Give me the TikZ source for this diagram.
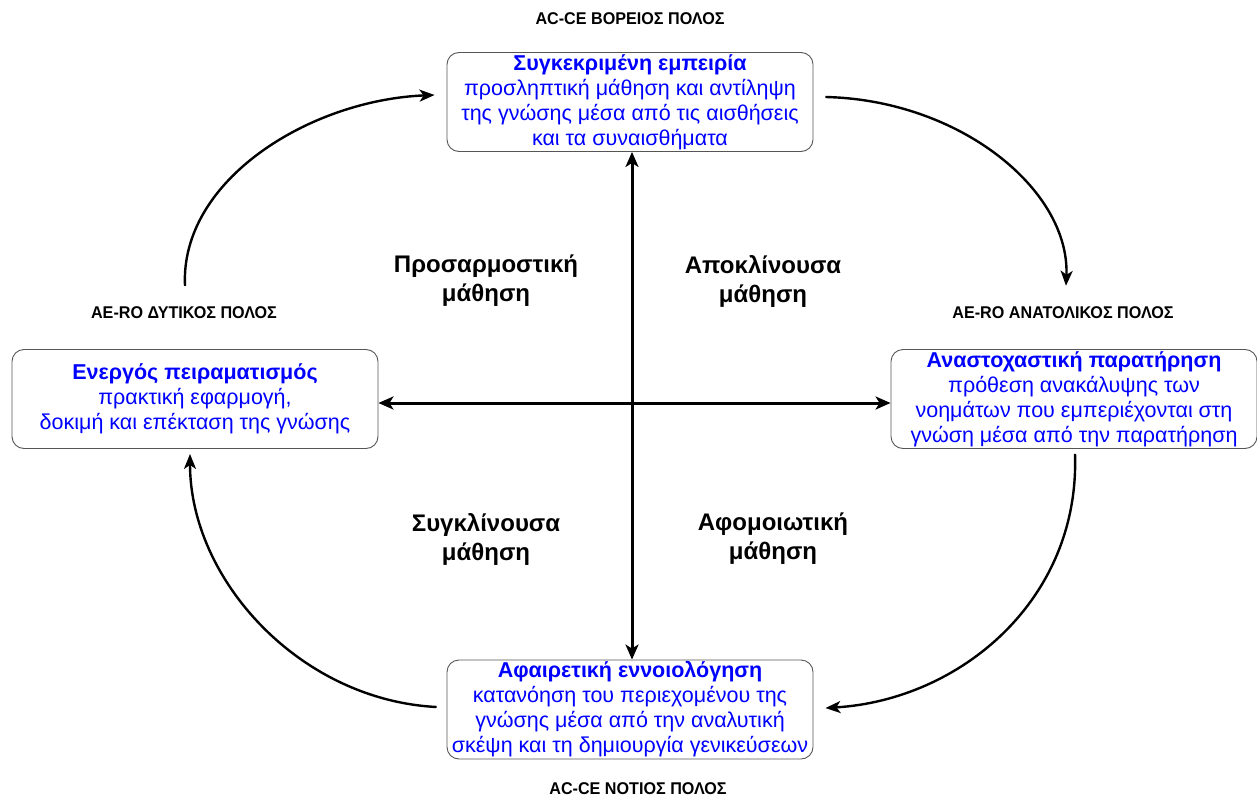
\documentclass[tikz,border=0pt]{standalone}
\usepackage{fontspec}
\setmainfont{Liberation Sans}
\newfontfamily\polefont[FakeStretch=0.95]{Liberation Sans}
\usetikzlibrary{arrows.meta}
\definecolor{boxgray}{RGB}{85,85,85}
\definecolor{stageblue}{RGB}{0,0,255}

\begin{document}
\begin{tikzpicture}[x=1pt,y=-1pt,
  stage/.style={draw=boxgray, line width=0.9pt, rounded corners=12pt,
    minimum width=366pt, minimum height=99pt, inner sep=0pt,
    align=center, text=stageblue, font=\fontsize{21.5}{25}\selectfont},
  pole/.style={font=\polefont\bfseries\fontsize{17}{19}\selectfont, inner sep=1pt},
  lstyle/.style={font=\bfseries\fontsize{24}{29}\selectfont, align=center, inner sep=1pt},
  axis/.style={line width=3pt, {Stealth[length=15pt,width=13pt,inset=4pt]}-{Stealth[length=15pt,width=13pt,inset=4pt]}},
  cycle/.style={line width=2.4pt, -{Stealth[length=15pt,width=12pt,inset=4pt]}}]
\useasboundingbox (0,0) rectangle (1257,797);

% the four stages of the learning cycle
\node[stage] (top) at (630,102) {\textbf{Συγκεκριμένη εμπειρία}\\προσληπτική μάθηση και αντίληψη\\της γνώσης μέσα από τις αισθήσεις\\και τα συναισθήματα};
\node[stage] (left) at (195,399) {\textbf{Ενεργός πειραματισμός}\\πρακτική εφαρμογή,\\δοκιμή και επέκταση της γνώσης};
\node[stage] (right) at (1074,399) {\textbf{Αναστοχαστική παρατήρηση}\\πρόθεση ανακάλυψης των\\νοημάτων που εμπεριέχονται στη\\γνώση μέσα από την παρατήρηση};
\node[stage] (bottom) at (630,709.5) {\textbf{Αφαιρετική εννοιολόγηση}\\κατανόηση του περιεχομένου της\\γνώσης μέσα από την αναλυτική\\σκέψη και τη δημιουργία γενικεύσεων};

% poles
\node[pole] (poleN) at (630,19) {AC-CE ΒΟΡΕΙΟΣ ΠΟΛΟΣ};
\node[pole] (poleW) at (184,313) {AE-RO ΔΥΤΙΚΟΣ ΠΟΛΟΣ};
\node[pole] (poleE) at (1063,313) {AE-RO ΑΝΑΤΟΛΙΚΟΣ ΠΟΛΟΣ};
\node[pole] (poleS) at (638,789) {AC-CE ΝΟΤΙΟΣ ΠΟΛΟΣ};

% learning styles in the quadrants
\node[lstyle] (accom) at (486,281) {Προσαρμοστική\\μάθηση};
\node[lstyle] (diverg) at (763,281) {Αποκλίνουσα\\μάθηση};
\node[lstyle] (converg) at (486,539) {Συγκλίνουσα\\μάθηση};
\node[lstyle] (assim) at (773,539) {Αφομοιωτική\\μάθηση};

% axes between opposite stages
\draw[axis] ([xshift=2pt]top.south) -- ([xshift=2pt]bottom.north);
\draw[axis] ([yshift=-4pt]left.east) -- ([yshift=-4pt]right.west);

% cycle arrows
\coordinate (eastend) at ([shift={(3,-20)}]poleE.north);
\coordinate (weststart) at ([shift={(1,-20)}]poleW.north);
\draw[cycle] ([shift={(12,-5)}]top.east) .. controls (960,100) and (1070,190) .. (eastend);
\draw[cycle] ([shift={(1,5)}]right.south) .. controls (1080,600) and (960,700) .. ([shift={(12,-1.5)}]bottom.east);
\draw[cycle] ([shift={(-10,-2.5)}]bottom.west) .. controls (300,700) and (190,580) .. ([shift={(-5,5)}]left.south);
\draw[cycle] (weststart) .. controls (180,180) and (310,100) .. ([shift={(-12,-7)}]top.west);
\end{tikzpicture}
\end{document}
